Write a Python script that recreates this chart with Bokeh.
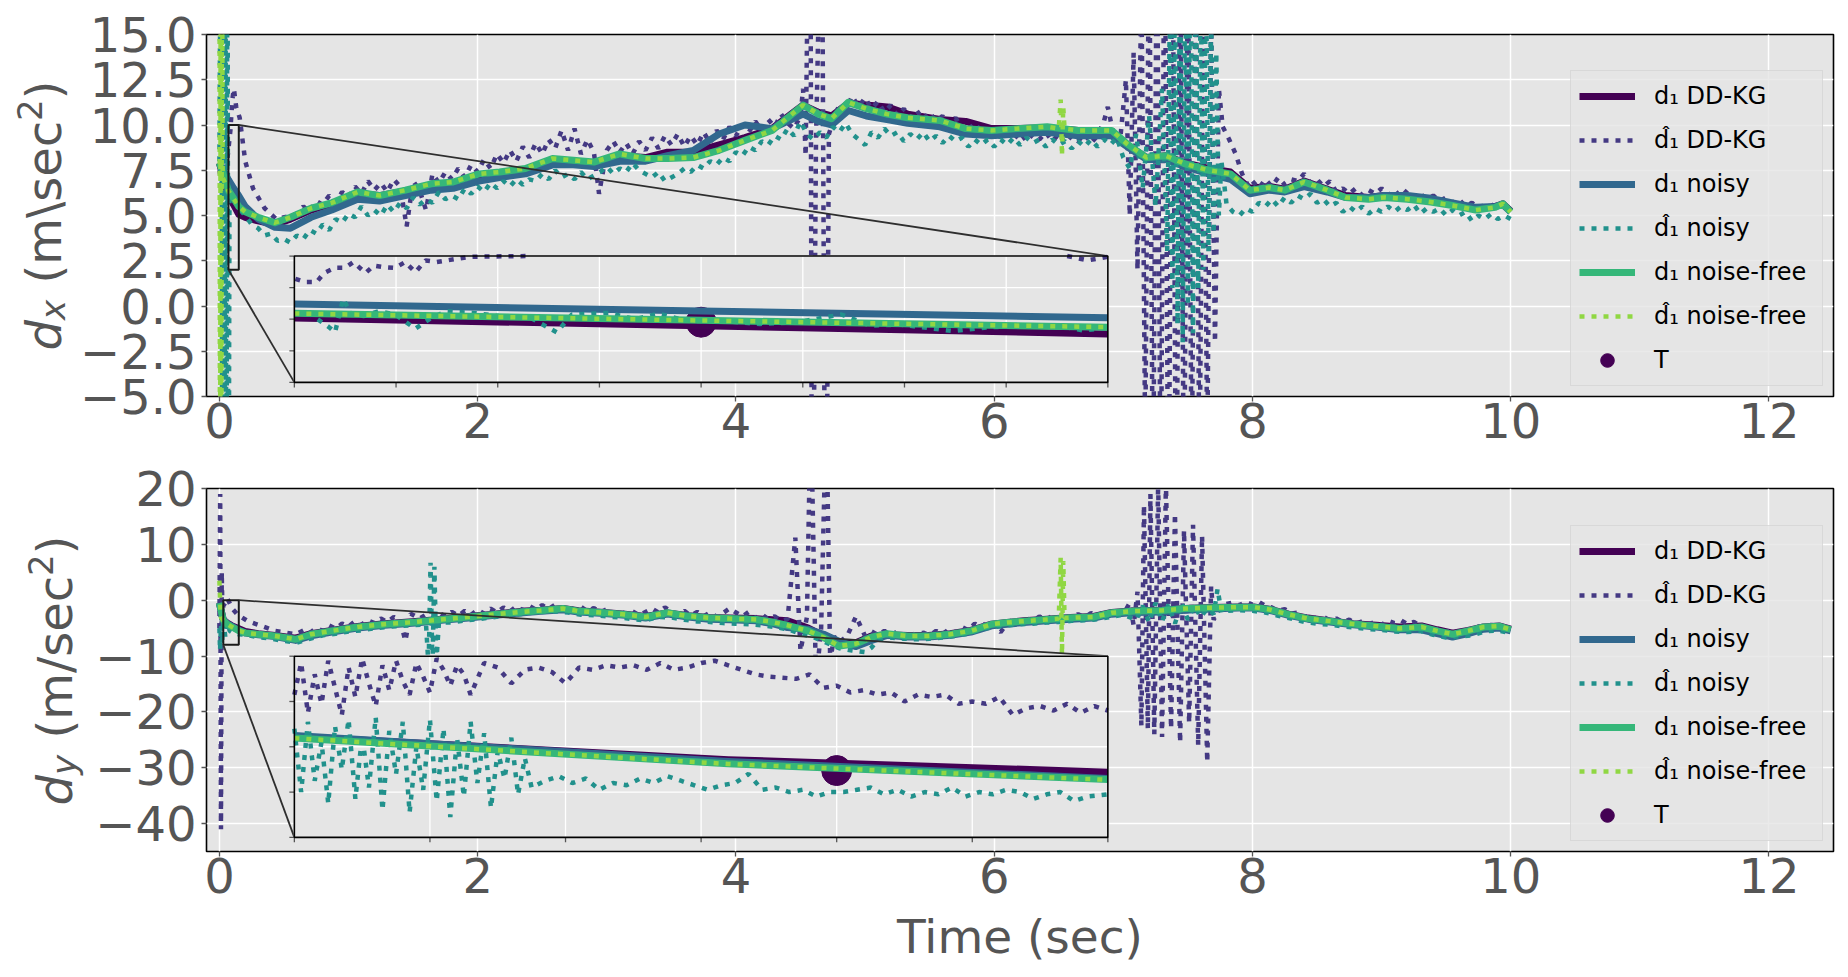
import math
from bokeh.plotting import figure
from bokeh.models import Range1d, FixedTicker, Legend, LegendItem, Label
from bokeh.layouts import column, row
from bokeh.embed import file_html
from bokeh.resources import INLINE

NAN = float("nan")

# ---------------- axis ticks / labels ----------------
x_ticks = [0, 2, 4, 6, 8, 10, 12]
x_tick_labels = ["0", "2", "4", "6", "8", "10", "12"]
yx_ticks = [-5, -2.5, 0, 2.5, 5, 7.5, 10, 12.5, 15]
yx_tick_labels = ["\u22125.0", "\u22122.5", "0.0", "2.5", "5.0", "7.5", "10.0", "12.5", "15.0"]
yy_ticks = [-40, -30, -20, -10, 0, 10, 20]
yy_tick_labels = ["\u221240", "\u221230", "\u221220", "\u221210", "0", "10", "20"]
legend_labels = ["d\u2081 DD-KG", "d\u0302\u2081 DD-KG", "d\u2081 noisy", "d\u0302\u2081 noisy",
                 "d\u2081 noise-free", "d\u0302\u2081 noise-free", "T"]
x_title = "Time (sec)"

# ---------------- top panel (d_x): (time, value) ----------------
dd_x = [(0.0, 7.9), (0.07, 6.08), (0.11, 5.6), (0.15, 5.07), (0.2, 4.9), (0.3, 4.7), (0.43, 4.5), (0.55, 4.8),
        (0.71, 5.3), (0.87, 5.65), (1.07, 6.2), (1.24, 6.1), (1.44, 6.35), (1.64, 6.7), (1.81, 6.8), (2.01, 7.2),
        (2.17, 7.35), (2.37, 7.55), (2.58, 8.05), (2.74, 8.0), (2.9, 7.9), (3.1, 8.3), (3.3, 8.2), (3.47, 8.5),
        (3.67, 8.5), (3.87, 8.9), (4.07, 9.3), (4.28, 9.8), (4.52, 11.1), (4.64, 10.7), (4.74, 10.5), (4.87, 11.2),
        (5.01, 11.1), (5.17, 11.0), (5.33, 10.6), (5.58, 10.3), (5.78, 10.2), (5.98, 9.8), (6.18, 9.8), (6.41, 9.85),
        (6.65, 9.7), (6.91, 9.6), (7.03, 8.9), (7.18, 8.2), (7.33, 8.3), (7.48, 7.9), (7.66, 7.6), (7.83, 7.4),
        (7.98, 6.5), (8.13, 6.6), (8.25, 6.45), (8.4, 6.9), (8.58, 6.45), (8.72, 6.1), (8.9, 6.0), (9.02, 6.1),
        (9.2, 5.95), (9.38, 5.8), (9.55, 5.6), (9.73, 5.35), (9.88, 5.5), (9.94, 5.65), (10.0, 5.25)]

ddh_x = [(0.0, 7.5), (0.03, 6.2), (0.06, 8.0), (0.085, 9.7), (0.1, 11.4), (0.112, 12.0), (0.13, 11.0), (0.157, 10.4),
         (0.2, 8.0), (0.26, 6.5), (0.35, 5.4), (0.44, 4.8), (0.56, 5.0), (0.6, 5.1), (0.65, 5.5), (0.7, 5.2),
         (0.75, 5.8), (0.8, 5.6), (0.85, 6.1), (0.9, 5.7), (0.95, 6.3), (1.0, 6.0), (1.05, 6.6), (1.1, 6.2),
         (1.15, 6.9), (1.2, 6.4), (1.25, 6.8), (1.3, 6.3), (1.35, 7.0), (1.4, 6.6), (1.45, 4.4), (1.5, 6.9),
         (1.55, 6.4), (1.6, 5.3), (1.65, 7.3), (1.7, 6.8), (1.75, 7.4), (1.8, 7.0), (1.85, 7.6), (1.9, 7.1),
         (1.95, 7.8), (2.0, 7.4), (2.05, 8.1), (2.1, 7.6), (2.15, 8.4), (2.2, 7.9), (2.25, 8.6), (2.3, 8.0),
         (2.35, 8.8), (2.4, 8.2), (2.45, 9.0), (2.5, 8.4), (2.55, 9.2), (2.6, 8.7), (2.65, 9.7), (2.7, 8.6),
         (2.75, 9.8), (2.8, 8.4), (2.85, 9.2), (2.9, 8.5), (2.94, 6.2), (3.0, 8.6), (3.05, 9.1), (3.1, 8.5),
         (3.15, 9.0), (3.2, 8.4), (3.25, 9.1), (3.3, 8.6), (3.35, 9.3), (3.4, 8.7), (3.45, 9.4), (3.5, 8.9),
         (3.55, 9.5), (3.6, 8.8), (3.65, 9.4), (3.7, 8.9), (3.75, 9.6), (3.8, 9.0), (3.85, 9.7), (3.9, 9.2),
         (3.95, 9.9), (4.0, 9.4), (4.05, 10.0), (4.1, 9.6), (4.15, 10.2), (4.2, 9.7), (4.25, 10.3), (4.3, 9.9),
         (4.35, 10.6), (4.4, 10.1), (4.45, 9.8), (4.5, 10.5), (4.52, 12.0), (4.54, 8.3), (4.575, 30.0),
         (4.59, -20.0), (4.62, 9.0), (4.665, 25.0), (4.695, -20.0), (4.72, 9.5), (4.76, 10.4), (4.8, 11.1),
         (4.85, 10.8), (4.9, 11.6), (4.95, 11.0), (5.0, 11.5), (5.05, 10.9), (5.1, 11.3), (5.15, 10.7),
         (5.2, 11.1), (5.25, 10.5), (5.3, 10.9), (5.35, 10.4), (5.4, 10.8), (5.45, 10.3), (5.5, 10.7),
         (5.55, 10.2), (5.6, 10.5), (5.65, 10.0), (5.7, 10.4), (5.75, 9.8), (5.8, 10.1), (5.85, 9.6), (5.9, 10.0),
         (5.95, 9.5), (6.0, 9.8), (6.05, 9.3), (6.1, 9.7), (6.15, 9.2), (6.2, 9.6), (6.25, 9.1), (6.3, 9.5),
         (6.35, 9.2), (6.4, 9.6), (6.45, 9.1), (6.5, 9.5), (6.55, 9.0), (6.6, 9.4), (6.65, 9.1), (6.7, 9.5),
         (6.75, 9.0), (6.8, 9.4), (6.85, 10.2), (6.88, 11.0), (6.92, 9.6), (6.98, 9.5), (7.02, 12.5), (7.05, 5.0),
         (7.08, 14.0), (7.11, 2.0), (7.14, 18.0), (7.17, -8.0), (7.2, 22.0), (7.23, -12.0), (7.26, 22.0),
         (7.29, -12.0), (7.32, 24.0), (7.35, -15.0), (7.38, 24.0), (7.41, -15.0), (7.44, 22.0), (7.47, -12.0),
         (7.5, 20.0), (7.53, -10.0), (7.56, 20.0), (7.59, -10.0), (7.62, 18.0), (7.65, -8.0), (7.68, 16.0),
         (7.71, -2.0), (7.74, 12.0), (7.77, 9.9), (7.82, 9.2), (7.87, 8.4), (7.92, 7.3), (7.97, 6.6), (8.0, 6.9),
         (8.05, 6.5), (8.1, 7.0), (8.15, 6.6), (8.2, 7.1), (8.25, 6.7), (8.3, 7.0), (8.35, 6.9), (8.4, 7.3),
         (8.45, 6.8), (8.5, 7.0), (8.55, 6.6), (8.6, 6.9), (8.65, 6.3), (8.7, 6.5), (8.75, 6.2), (8.8, 6.5),
         (8.85, 6.1), (8.9, 6.4), (8.95, 6.2), (9.0, 6.5), (9.05, 6.1), (9.1, 6.4), (9.15, 6.0), (9.2, 6.4),
         (9.25, 6.0), (9.3, 6.2), (9.35, 5.9), (9.4, 6.1), (9.45, 5.8), (9.5, 6.0), (9.55, 5.7), (9.6, 5.9),
         (9.65, 5.5), (9.7, 5.7), (9.75, 5.4), (9.8, 5.6), (9.85, 5.5), (9.9, 5.8), (9.95, 5.3), (10.0, 5.4)]

noisy_x = [(0.0, 7.9), (0.07, 6.97), (0.11, 6.5), (0.15, 6.09), (0.2, 5.5), (0.3, 4.8), (0.43, 4.35), (0.55, 4.3),
           (0.71, 4.9), (0.87, 5.3), (1.07, 5.9), (1.24, 5.8), (1.44, 6.1), (1.64, 6.4), (1.81, 6.5), (2.01, 6.9),
           (2.17, 7.1), (2.37, 7.3), (2.58, 7.8), (2.74, 7.8), (2.9, 7.7), (3.1, 8.0), (3.3, 8.0), (3.47, 8.3),
           (3.67, 8.6), (3.87, 9.5), (4.07, 10.0), (4.28, 9.8), (4.52, 10.6), (4.64, 10.2), (4.74, 10.0),
           (4.87, 10.8), (5.01, 10.5), (5.17, 10.3), (5.33, 10.1), (5.58, 9.9), (5.78, 9.5), (5.98, 9.4),
           (6.18, 9.5), (6.41, 9.6), (6.65, 9.4), (6.91, 9.4), (7.03, 8.8), (7.18, 8.1), (7.33, 8.1), (7.48, 7.7),
           (7.66, 7.3), (7.83, 7.0), (7.98, 6.2), (8.13, 6.4), (8.25, 6.3), (8.4, 6.6), (8.58, 6.3), (8.72, 6.0),
           (8.9, 6.0), (9.02, 6.1), (9.2, 6.1), (9.38, 5.95), (9.55, 5.7), (9.73, 5.45), (9.88, 5.5), (9.94, 5.6),
           (10.0, 5.2)]

noisyh_x = [(0.0, 8.0), (0.015, 30.0), (0.022, -25.0), (0.03, 30.0), (0.038, -25.0), (0.046, 30.0),
            (0.054, -22.0), (0.062, 28.0), (0.07, -20.0), (0.078, 6.4), (0.1, 6.0), (0.15, 5.4), (0.2, 5.0),
            (0.25, 4.5), (0.3, 4.3), (0.35, 3.9), (0.4, 4.0), (0.45, 3.6), (0.5, 3.7), (0.55, 3.5), (0.6, 3.9),
            (0.65, 3.7), (0.7, 4.2), (0.75, 4.0), (0.8, 4.5), (0.85, 4.2), (0.9, 4.8), (0.95, 4.6), (1.0, 5.1),
            (1.05, 4.9), (1.1, 5.5), (1.15, 5.0), (1.2, 5.3), (1.25, 5.0), (1.3, 5.6), (1.35, 5.2), (1.4, 5.7),
            (1.45, 5.4), (1.5, 6.0), (1.55, 5.6), (1.6, 5.9), (1.65, 5.7), (1.7, 6.3), (1.75, 5.9), (1.8, 6.1),
            (1.85, 5.9), (1.9, 6.5), (1.95, 6.2), (2.0, 6.6), (2.05, 6.3), (2.1, 6.8), (2.15, 6.5), (2.2, 6.9),
            (2.25, 6.6), (2.3, 7.0), (2.35, 6.7), (2.4, 7.0), (2.45, 6.9), (2.5, 7.3), (2.55, 7.0), (2.6, 7.5),
            (2.65, 7.1), (2.7, 7.3), (2.75, 7.0), (2.8, 7.4), (2.85, 7.0), (2.9, 7.2), (2.95, 7.4), (3.0, 7.7),
            (3.05, 7.3), (3.1, 7.6), (3.15, 7.4), (3.2, 7.9), (3.25, 7.5), (3.3, 7.3), (3.35, 7.1), (3.4, 7.4),
            (3.45, 6.9), (3.5, 7.1), (3.55, 7.3), (3.6, 7.6), (3.65, 7.4), (3.7, 7.8), (3.75, 7.6), (3.8, 8.0),
            (3.85, 7.8), (3.9, 8.2), (3.95, 8.0), (4.0, 8.5), (4.05, 8.3), (4.1, 8.8), (4.15, 8.6), (4.2, 9.1),
            (4.25, 8.9), (4.3, 9.4), (4.35, 9.2), (4.4, 9.8), (4.45, 9.4), (4.5, 10.2), (4.55, 9.5), (4.6, 9.2),
            (4.65, 9.6), (4.7, 9.3), (4.75, 9.9), (4.8, 9.6), (4.85, 10.1), (4.9, 9.5), (4.95, 9.2), (5.0, 8.9),
            (5.05, 9.6), (5.1, 9.3), (5.15, 9.8), (5.2, 9.4), (5.25, 9.6), (5.3, 9.1), (5.35, 9.5), (5.4, 9.2),
            (5.45, 9.6), (5.5, 9.1), (5.55, 9.4), (5.6, 9.0), (5.65, 9.4), (5.7, 9.1), (5.75, 9.3), (5.8, 8.8),
            (5.85, 9.2), (5.9, 8.9), (5.95, 9.2), (6.0, 8.8), (6.05, 9.2), (6.1, 8.9), (6.15, 9.3), (6.2, 8.9),
            (6.25, 9.3), (6.3, 9.0), (6.35, 9.2), (6.4, 8.8), (6.45, 9.2), (6.5, 8.9), (6.55, 9.1), (6.6, 8.7),
            (6.65, 9.1), (6.7, 8.8), (6.75, 9.2), (6.8, 8.8), (6.85, 9.2), (6.9, 8.9), (6.95, 9.3), (7.0, 8.2),
            (7.05, 7.6), (7.1, 9.5), (7.15, 6.5), (7.2, 10.5), (7.25, 5.5), (7.3, 12.0), (7.34, 3.0), (7.36, 16.0),
            (7.38, 1.0), (7.4, 18.0), (7.42, -1.0), (7.44, 20.0), (7.46, -2.0), (7.48, 20.0), (7.5, 0.0),
            (7.52, 22.0), (7.54, -1.5), (7.56, 20.0), (7.58, 1.0), (7.6, 18.0), (7.62, 2.0), (7.64, 19.0),
            (7.66, 3.0), (7.68, 16.0), (7.7, 4.0), (7.72, 14.0), (7.74, 5.0), (7.76, 8.0), (7.8, 5.6), (7.85, 5.2),
            (7.9, 5.0), (7.95, 5.4), (8.0, 5.2), (8.05, 5.7), (8.1, 5.5), (8.15, 5.9), (8.2, 5.5), (8.25, 6.0),
            (8.3, 5.7), (8.35, 6.1), (8.4, 5.9), (8.45, 6.2), (8.5, 5.7), (8.55, 5.9), (8.6, 5.5), (8.65, 5.7),
            (8.7, 5.2), (8.75, 5.5), (8.8, 5.2), (8.85, 5.5), (8.9, 5.1), (8.95, 5.4), (9.0, 5.2), (9.05, 5.5),
            (9.1, 5.2), (9.15, 5.5), (9.2, 5.3), (9.25, 5.6), (9.3, 5.1), (9.35, 5.4), (9.4, 5.2), (9.45, 5.4),
            (9.5, 5.0), (9.55, 5.3), (9.6, 5.0), (9.65, 5.2), (9.7, 4.7), (9.75, 5.0), (9.8, 4.8), (9.85, 5.1),
            (9.9, 4.8), (9.95, 5.0), (10.0, 4.8)]

nf_x = [(0.0, 7.9), (0.07, 6.38), (0.11, 5.95), (0.15, 5.49), (0.2, 5.2), (0.3, 4.9), (0.43, 4.6), (0.55, 4.9),
        (0.71, 5.4), (0.87, 5.7), (1.07, 6.3), (1.24, 6.1), (1.44, 6.4), (1.64, 6.75), (1.81, 6.85), (2.01, 7.3),
        (2.17, 7.4), (2.37, 7.6), (2.58, 8.15), (2.74, 8.05), (2.9, 7.95), (3.1, 8.4), (3.3, 8.15), (3.47, 8.15),
        (3.67, 8.2), (3.87, 8.6), (4.07, 9.15), (4.28, 9.7), (4.52, 11.1), (4.64, 10.6), (4.74, 10.35),
        (4.87, 11.25), (5.01, 10.9), (5.17, 10.6), (5.33, 10.4), (5.58, 10.25), (5.78, 9.8), (5.98, 9.7),
        (6.18, 9.8), (6.41, 9.9), (6.65, 9.7), (6.91, 9.7), (7.03, 8.95), (7.18, 8.2), (7.33, 8.3), (7.48, 7.85),
        (7.66, 7.5), (7.83, 7.3), (7.98, 6.4), (8.13, 6.55), (8.25, 6.4), (8.4, 6.85), (8.58, 6.4), (8.72, 6.0),
        (8.9, 5.9), (9.02, 6.0), (9.2, 5.9), (9.38, 5.75), (9.55, 5.55), (9.73, 5.3), (9.88, 5.45), (9.94, 5.65),
        (10.0, 5.2)]

nfh_x = [(0.0, 30.0), (0.005, -20.0), (0.01, 25.0), (0.015, -15.0), (0.02, 25.0), (0.025, 7.1), (0.07, 6.36),
         (0.11, 5.93), (0.15, 5.5), (0.2, 5.2), (0.3, 4.9), (0.43, 4.6), (0.55, 4.9), (0.71, 5.4), (0.87, 5.7),
         (1.07, 6.3), (1.24, 6.1), (1.44, 6.4), (1.64, 6.75), (1.81, 6.85), (2.01, 7.3), (2.17, 7.4), (2.37, 7.6),
         (2.58, 8.15), (2.74, 8.05), (2.9, 7.95), (3.1, 8.4), (3.3, 8.15), (3.47, 8.15), (3.67, 8.2), (3.87, 8.6),
         (4.07, 9.15), (4.28, 9.7), (4.52, 11.1), (4.64, 10.6), (4.74, 10.35), (4.87, 11.25), (5.01, 10.9),
         (5.17, 10.6), (5.33, 10.4), (5.58, 10.25), (5.78, 9.8), (5.98, 9.7), (6.18, 9.8), (6.41, 9.9),
         (6.5, 9.8), (6.515, 11.4), (6.525, 8.3), (6.535, 11.0), (6.545, 9.8), (6.65, 9.7), (6.91, 9.7),
         (7.03, 8.95), (7.18, 8.2), (7.33, 8.3), (7.48, 7.85), (7.66, 7.5), (7.83, 7.3), (7.98, 6.4),
         (8.13, 6.55), (8.25, 6.4), (8.4, 6.85), (8.58, 6.4), (8.72, 6.0), (8.9, 5.9), (9.02, 6.0), (9.2, 5.9),
         (9.38, 5.75), (9.55, 5.55), (9.73, 5.3), (9.88, 5.45), (9.94, 5.65), (10.0, 5.2)]

T_t = [0.11]
T_dx = [5.81]
T_dy = [-5.05]

# ---------------- bottom panel (d_y): (time, value) ----------------
dd_y = [(0.0, -0.5), (0.03, -3.55), (0.06, -4.1), (0.094, -4.55), (0.15, -5.12), (0.2, -5.6), (0.3, -6.0),
        (0.43, -6.3), (0.59, -6.8), (0.71, -6.0), (0.87, -5.4), (1.07, -4.7), (1.28, -4.2), (1.52, -3.8),
        (1.72, -3.4), (1.93, -2.9), (2.13, -2.5), (2.33, -2.0), (2.49, -1.8), (2.66, -1.5), (2.78, -1.9),
        (2.98, -2.2), (3.14, -2.5), (3.3, -2.9), (3.47, -2.3), (3.63, -2.8), (3.79, -3.1), (3.95, -3.2),
        (4.16, -3.3), (4.28, -3.5), (4.4, -3.7), (4.56, -5.0), (4.68, -6.4), (4.8, -7.8), (4.93, -7.6),
        (5.05, -6.4), (5.17, -6.2), (5.33, -6.3), (5.49, -6.3), (5.66, -6.0), (5.82, -5.4), (5.98, -4.3),
        (6.1, -4.0), (6.23, -3.7), (6.41, -3.4), (6.59, -3.1), (6.77, -2.9), (6.91, -2.2), (7.09, -1.9),
        (7.3, -1.8), (7.48, -1.5), (7.68, -1.3), (7.89, -1.2), (8.01, -1.2), (8.13, -1.6), (8.28, -2.5),
        (8.43, -3.2), (8.6, -3.7), (8.78, -4.2), (8.96, -4.5), (9.14, -4.8), (9.31, -4.6), (9.43, -5.3),
        (9.55, -5.9), (9.67, -5.4), (9.79, -4.8), (9.91, -4.6), (10.0, -5.2)]

ddh_y = [(0.0, -5.0), (0.006, 19.0), (0.012, -41.0), (0.018, 5.0), (0.024, -3.0), (0.03, -1.0), (0.045, -0.5),
         (0.06, 0.4), (0.1, -1.5), (0.14, -2.6), (0.22, -3.75), (0.3, -4.4), (0.43, -5.5), (0.59, -6.1),
         (0.65, -5.4), (0.7, -5.9), (0.75, -5.0), (0.8, -5.5), (0.85, -4.5), (0.9, -5.1), (0.95, -4.2),
         (1.0, -4.7), (1.05, -3.8), (1.1, -4.4), (1.15, -3.6), (1.2, -4.1), (1.25, -3.3), (1.3, -3.9),
         (1.35, -3.0), (1.4, -3.6), (1.44, -7.3), (1.48, -2.4), (1.55, -3.3), (1.6, -2.6), (1.65, -3.2),
         (1.7, -2.3), (1.75, -2.9), (1.8, -2.1), (1.85, -2.8), (1.9, -1.9), (1.95, -2.6), (2.0, -1.7),
         (2.05, -2.4), (2.1, -1.5), (2.15, -2.2), (2.2, -1.3), (2.25, -2.0), (2.3, -1.1), (2.35, -1.8),
         (2.4, -1.0), (2.45, -1.7), (2.5, -0.9), (2.55, -1.6), (2.6, -0.8), (2.65, -1.5), (2.7, -1.0),
         (2.75, -1.8), (2.8, -1.2), (2.85, -2.0), (2.9, -1.4), (2.95, -2.2), (3.0, -1.6), (3.05, -2.4),
         (3.1, -1.8), (3.15, -2.6), (3.2, -2.0), (3.25, -2.7), (3.3, -2.1), (3.35, -1.5), (3.4, -2.2),
         (3.45, -1.3), (3.5, -2.0), (3.55, -2.6), (3.6, -1.9), (3.65, -2.8), (3.7, -2.1), (3.75, -2.9),
         (3.8, -2.2), (3.85, -3.0), (3.9, -2.3), (3.95, -1.5), (4.0, -2.2), (4.05, -2.9), (4.1, -2.1),
         (4.15, -3.2), (4.2, -2.5), (4.25, -3.4), (4.3, -2.9), (4.35, -3.7), (4.4, -3.4), (4.46, 11.2),
         (4.5, -9.1), (4.55, -3.0), (4.58, 35.0), (4.62, -15.0), (4.66, -5.0), (4.7, 35.0), (4.73, -11.0),
         (4.76, -6.5), (4.8, -7.5), (4.86, -6.5), (4.93, -2.9), (5.0, -6.4), (5.05, -5.6), (5.1, -6.2),
         (5.15, -5.5), (5.2, -6.3), (5.25, -5.6), (5.3, -6.4), (5.35, -5.7), (5.4, -6.5), (5.45, -5.8),
         (5.5, -6.3), (5.55, -5.5), (5.6, -6.1), (5.65, -5.2), (5.7, -5.8), (5.75, -4.8), (5.8, -5.4),
         (5.85, -4.2), (5.9, -4.9), (5.95, -3.8), (6.0, -4.6), (6.05, -5.7), (6.1, -4.2), (6.15, -3.4),
         (6.2, -4.1), (6.25, -3.2), (6.3, -3.9), (6.35, -2.9), (6.4, -3.6), (6.45, -2.8), (6.5, -3.4),
         (6.55, -2.6), (6.6, -3.3), (6.65, -2.5), (6.7, -3.1), (6.75, -2.3), (6.8, -2.9), (6.85, -2.0),
         (6.9, -2.6), (6.95, -1.8), (7.0, -2.5), (7.05, -0.5), (7.08, -4.5), (7.11, 1.5), (7.14, -22.5),
         (7.16, 17.0), (7.19, -23.0), (7.21, 19.0), (7.24, -24.0), (7.27, 21.0), (7.3, -24.5), (7.33, 21.0),
         (7.37, -23.0), (7.4, 15.5), (7.44, -25.5), (7.47, 12.5), (7.51, -22.0), (7.54, 13.5), (7.58, -26.0),
         (7.61, 11.5), (7.65, -29.0), (7.68, 2.5), (7.7, -3.5), (7.73, -2.0), (7.78, -0.8), (7.85, -0.4),
         (7.9, -0.9), (7.95, -0.3), (8.0, -0.8), (8.05, -0.3), (8.1, -1.0), (8.15, -1.3), (8.2, -1.9),
         (8.25, -1.6), (8.3, -2.4), (8.35, -2.2), (8.4, -3.0), (8.45, -2.7), (8.5, -3.4), (8.55, -3.0),
         (8.6, -3.6), (8.65, -3.3), (8.7, -3.9), (8.75, -3.5), (8.8, -4.2), (8.85, -3.8), (8.9, -4.3),
         (8.95, -3.9), (9.0, -4.4), (9.05, -3.7), (9.1, -4.1), (9.15, -3.6), (9.2, -4.3), (9.25, -3.9),
         (9.3, -4.6), (9.35, -4.8), (9.4, -5.4), (9.45, -5.1), (9.5, -5.8), (9.55, -5.3), (9.6, -5.9),
         (9.65, -5.2), (9.7, -5.6), (9.75, -4.7), (9.8, -5.0), (9.85, -4.4), (9.9, -4.8), (9.95, -4.5),
         (10.0, -5.1)]

noisy_y = [(0.0, -0.5), (0.03, -3.5), (0.06, -4.2), (0.094, -4.62), (0.15, -5.4), (0.2, -5.9), (0.3, -6.2),
           (0.43, -6.5), (0.59, -7.2), (0.71, -6.4), (0.87, -5.7), (1.07, -5.0), (1.28, -4.5), (1.52, -4.1),
           (1.72, -3.6), (1.93, -3.2), (2.13, -2.7), (2.33, -2.3), (2.49, -2.0), (2.66, -1.7), (2.78, -2.1),
           (2.98, -2.4), (3.14, -2.7), (3.3, -3.2), (3.47, -2.5), (3.63, -3.0), (3.79, -3.4), (3.95, -3.5),
           (4.16, -3.7), (4.28, -4.2), (4.4, -4.9), (4.56, -5.2), (4.68, -6.1), (4.8, -7.4), (4.93, -8.3),
           (5.05, -7.2), (5.17, -6.3), (5.33, -6.6), (5.49, -6.6), (5.66, -6.3), (5.82, -5.7), (5.98, -4.6),
           (6.1, -4.3), (6.23, -4.0), (6.41, -3.7), (6.59, -3.4), (6.77, -3.2), (6.91, -2.5), (7.09, -2.2),
           (7.3, -2.1), (7.48, -1.8), (7.68, -1.6), (7.89, -1.4), (8.01, -1.4), (8.13, -1.8), (8.28, -2.7),
           (8.43, -3.4), (8.6, -3.9), (8.78, -4.4), (8.96, -4.8), (9.14, -5.3), (9.31, -5.3), (9.43, -6.0),
           (9.55, -6.6), (9.67, -6.0), (9.79, -5.2), (9.91, -5.0), (10.0, -5.5)]

noisyh_y = [(0.0, -5.0), (0.005, -9.0), (0.012, -4.5), (0.02, -8.0), (0.03, -3.2), (0.045, -6.5), (0.06, -4.0),
            (0.08, -5.5), (0.1, -5.8), (0.15, -6.1), (0.2, -6.2), (0.3, -6.6), (0.4, -6.9), (0.5, -7.3),
            (0.6, -7.6), (0.7, -6.9), (0.8, -6.3), (0.9, -6.0), (1.0, -5.6), (1.1, -5.4), (1.2, -5.0), (1.3, -4.8),
            (1.4, -4.6), (1.5, -4.5), (1.6, -4.3), (1.62, -12.0), (1.635, 6.7), (1.65, -12.0), (1.665, 6.0),
            (1.68, -11.0), (1.7, -4.0), (1.8, -4.0), (1.9, -3.6), (2.0, -3.4), (2.1, -3.1), (2.2, -2.8),
            (2.3, -2.6), (2.4, -2.3), (2.5, -2.1), (2.6, -2.0), (2.7, -2.2), (2.8, -2.6), (2.9, -2.7), (3.0, -2.9),
            (3.1, -3.1), (3.2, -3.4), (3.3, -3.6), (3.4, -3.0), (3.5, -3.1), (3.6, -3.5), (3.7, -3.8), (3.8, -3.9),
            (3.9, -4.1), (4.0, -4.2), (4.1, -4.3), (4.2, -4.5), (4.3, -4.8), (4.4, -5.2), (4.5, -6.0), (4.6, -6.6),
            (4.7, -7.6), (4.8, -8.6), (4.9, -9.0), (5.0, -9.3), (5.05, -8.5), (5.1, -7.0), (5.2, -6.7),
            (5.3, -6.9), (5.4, -7.0), (5.5, -6.9), (5.6, -6.7), (5.7, -6.4), (5.8, -6.0), (5.9, -5.2), (6.0, -4.8),
            (6.1, -4.5), (6.2, -4.3), (6.3, -4.2), (6.4, -4.0), (6.5, -3.9), (6.6, -3.7), (6.7, -3.6), (6.8, -3.4),
            (6.9, -3.0), (7.0, -2.6), (7.1, -3.5), (7.15, -1.0), (7.2, -4.0), (7.25, -0.5), (7.3, -3.8),
            (7.35, -0.8), (7.4, -4.2), (7.45, -0.5), (7.5, -3.5), (7.55, -1.0), (7.6, -3.0), (7.65, -1.5),
            (7.7, -2.5), (7.73, 2.0), (7.76, -2.2), (7.8, -1.9), (7.9, -1.8), (8.0, -1.9), (8.1, -2.2), (8.2, -2.8),
            (8.3, -3.3), (8.4, -3.9), (8.5, -4.2), (8.6, -4.4), (8.7, -4.7), (8.8, -4.9), (8.9, -5.2), (9.0, -5.3),
            (9.1, -5.6), (9.2, -5.7), (9.3, -5.5), (9.4, -6.2), (9.5, -6.7), (9.6, -6.5), (9.7, -6.3), (9.8, -5.6),
            (9.9, -5.4), (10.0, -5.9)]

nf_y = [(0.0, -0.5), (0.03, -3.61), (0.06, -4.3), (0.094, -4.75), (0.15, -5.45), (0.2, -5.85), (0.3, -6.1),
        (0.43, -6.4), (0.59, -7.0), (0.71, -6.1), (0.87, -5.5), (1.07, -4.8), (1.28, -4.3), (1.52, -3.9),
        (1.72, -3.45), (1.93, -3.0), (2.13, -2.55), (2.33, -2.1), (2.49, -1.85), (2.66, -1.5), (2.78, -1.95),
        (2.98, -2.25), (3.14, -2.55), (3.3, -3.0), (3.47, -2.25), (3.63, -2.85), (3.79, -3.15), (3.95, -3.3),
        (4.16, -3.45), (4.28, -3.9), (4.4, -4.5), (4.56, -5.5), (4.68, -6.7), (4.8, -8.2), (4.93, -7.8),
        (5.05, -6.6), (5.17, -6.0), (5.33, -6.4), (5.49, -6.4), (5.66, -6.1), (5.82, -5.5), (5.98, -4.3),
        (6.1, -4.0), (6.23, -3.75), (6.41, -3.45), (6.59, -3.15), (6.77, -3.0), (6.91, -2.25), (7.09, -1.95),
        (7.3, -1.85), (7.48, -1.5), (7.68, -1.35), (7.89, -1.25), (8.01, -1.25), (8.13, -1.65), (8.28, -2.55),
        (8.43, -3.3), (8.6, -3.75), (8.78, -4.25), (8.96, -4.65), (9.14, -5.05), (9.31, -4.8), (9.43, -5.5),
        (9.55, -6.1), (9.67, -5.5), (9.79, -4.8), (9.91, -4.65), (10.0, -5.25)]

nfh_y = [(0.0, 3.5), (0.01, -3.0), (0.03, -3.62), (0.06, -4.3), (0.094, -4.76), (0.15, -5.46), (0.2, -5.85),
         (0.3, -6.1), (0.43, -6.4), (0.59, -7.0), (0.71, -6.1), (0.87, -5.5), (1.07, -4.8), (1.28, -4.3),
         (1.52, -3.9), (1.72, -3.45), (1.93, -3.0), (2.13, -2.55), (2.33, -2.1), (2.49, -1.85), (2.66, -1.5),
         (2.78, -1.95), (2.98, -2.25), (3.14, -2.55), (3.3, -3.0), (3.47, -2.25), (3.63, -2.85), (3.79, -3.15),
         (3.95, -3.3), (4.16, -3.45), (4.28, -3.9), (4.4, -4.5), (4.56, -5.5), (4.68, -6.7), (4.8, -8.2),
         (4.93, -7.8), (5.05, -6.6), (5.17, -6.0), (5.33, -6.4), (5.49, -6.4), (5.66, -6.1), (5.82, -5.5),
         (5.98, -4.3), (6.1, -4.0), (6.23, -3.75), (6.41, -3.45), (6.5, -3.3), (6.515, 7.6), (6.525, -9.8),
         (6.535, 7.0), (6.545, -3.2), (6.59, -3.15), (6.77, -3.0), (6.91, -2.25), (7.09, -1.95), (7.3, -1.85),
         (7.48, -1.5), (7.68, -1.35), (7.89, -1.25), (8.01, -1.25), (8.13, -1.65), (8.28, -2.55), (8.43, -3.3),
         (8.6, -3.75), (8.78, -4.25), (8.96, -4.65), (9.14, -5.05), (9.31, -4.8), (9.43, -5.5), (9.55, -6.1),
         (9.67, -5.5), (9.79, -4.8), (9.91, -4.65), (10.0, -5.25)]

# ---------------- zoomed insets ----------------
ins_top_xlim = (0.07, 0.15)
ins_top_ylim = (2.0, 10.0)
ins_top_xticks = [0.07, 0.08, 0.09, 0.10, 0.11, 0.12, 0.13, 0.14, 0.15]
ins_top_yticks = [2, 4, 6, 8, 10]
ins_top_dd = [(0.07, 6.08), (0.11, 5.58), (0.15, 5.07)]
ins_top_ddh = [(0.0701, 8.56), (0.0711, 8.35), (0.0722, 8.35), (0.0729, 8.92), (0.074, 9.26), (0.075, 9.26),
               (0.0758, 9.62), (0.077, 8.92), (0.0778, 9.4), (0.0788, 9.3), (0.0799, 9.25), (0.0809, 9.62),
               (0.0819, 8.98), (0.0829, 9.72), (0.084, 9.62), (0.085, 9.72), (0.086, 9.83), (0.0871, 9.94),
               (0.0885, 9.97), (0.0905, 9.98), (0.0932, 10.0), (NAN, NAN), (0.146, 10.0), (0.148, 9.73),
               (0.15, 9.95)]
ins_top_noisy = [(0.07, 6.97), (0.11, 6.52), (0.15, 6.09)]
ins_top_noisyh = [(0.0701, 6.4), (0.0716, 6.3), (0.0734, 5.5), (0.074, 5.17), (0.0748, 7.3), (0.0755, 6.4),
                  (0.0768, 6.2), (0.0783, 6.5), (0.0799, 6.3), (0.0819, 5.4), (0.0835, 6.1), (0.085, 6.5),
                  (0.0876, 6.4), (0.0901, 6.2), (0.0932, 6.1), (0.0958, 5.17), (0.0973, 6.3), (0.1009, 6.4),
                  (0.1035, 6.0), (0.1058, 6.35), (0.1086, 5.9), (0.1128, 5.85), (0.1158, 5.7), (0.1194, 5.8),
                  (0.1238, 6.3), (0.1266, 5.6), (0.1297, 5.65), (0.1348, 5.25), (0.1384, 5.5), (0.145, 5.6),
                  (0.1475, 5.3), (0.15, 5.45)]
ins_top_nf = [(0.07, 6.38), (0.11, 5.93), (0.15, 5.49)]
ins_top_nfh = [(0.07, 6.36), (0.11, 5.92), (0.15, 5.5)]

ins_bot_xlim = (0.03, 0.15)
ins_bot_ylim = (-8.0, 0.0)
ins_bot_xticks = [0.03, 0.05, 0.07, 0.09, 0.11, 0.13, 0.15]
ins_bot_yticks = [-8, -6, -4, -2, 0]
ins_bot_dd = [(0.03, -3.55), (0.094, -4.57), (0.15, -5.12)]
ins_bot_ddh = [(0.030, -1.7), (0.031, -0.3), (0.032, -2.5), (0.033, -0.8), (0.034, -2.1), (0.035, -0.2),
               (0.036, -1.4), (0.037, -2.6), (0.038, -0.5), (0.039, -1.8), (0.040, -0.1), (0.041, -1.2),
               (0.042, -2.2), (0.043, -0.4), (0.044, -1.5), (0.045, -0.2), (0.046, -1.1), (0.047, -1.7),
               (0.048, -0.3), (0.049, -0.9), (0.050, -1.6), (0.051, -0.1), (0.052, -0.6), (0.053, -1.3),
               (0.054, -0.4), (0.055, -0.8), (0.056, -1.7), (0.058, -0.3), (0.060, -0.5), (0.062, -1.2),
               (0.064, -0.6), (0.066, -0.5), (0.068, -0.7), (0.070, -1.2), (0.072, -0.5), (0.074, -0.6),
               (0.076, -0.4), (0.078, -0.5), (0.080, -0.4), (0.082, -0.6), (0.084, -0.3), (0.086, -0.6),
               (0.088, -0.5), (0.090, -0.3), (0.092, -0.2), (0.094, -0.4), (0.096, -0.6), (0.098, -0.8),
               (0.100, -0.9), (0.102, -0.95), (0.104, -1.0), (0.106, -0.8), (0.108, -1.4), (0.110, -1.3),
               (0.112, -1.6), (0.114, -1.5), (0.116, -1.7), (0.118, -1.6), (0.120, -2.0), (0.122, -1.7),
               (0.124, -1.8), (0.126, -1.7), (0.128, -2.1), (0.130, -2.0), (0.132, -2.1), (0.134, -1.8),
               (0.136, -2.6), (0.138, -2.3), (0.140, -2.2), (0.142, -2.4), (0.144, -2.1), (0.146, -2.5),
               (0.148, -2.2), (0.150, -2.4)]
ins_bot_noisy = [(0.03, -3.5), (0.094, -4.65), (0.15, -5.4)]
ins_bot_noisyh = [(0.030, -3.2), (0.031, -6.0), (0.032, -2.9), (0.033, -5.5), (0.034, -3.8), (0.035, -6.5),
                  (0.036, -3.1), (0.037, -5.0), (0.038, -2.8), (0.039, -6.3), (0.040, -3.5), (0.041, -5.8),
                  (0.042, -2.7), (0.043, -6.8), (0.044, -3.3), (0.045, -5.2), (0.046, -2.9), (0.047, -6.9),
                  (0.048, -4.0), (0.049, -5.9), (0.050, -2.8), (0.051, -6.4), (0.052, -3.2), (0.053, -7.1),
                  (0.054, -3.6), (0.055, -6.2), (0.056, -2.9), (0.057, -5.6), (0.058, -3.4), (0.059, -6.7),
                  (0.060, -4.2), (0.061, -5.4), (0.062, -3.6), (0.063, -6.1), (0.064, -4.5), (0.065, -5.8),
                  (0.067, -5.5), (0.069, -5.3), (0.071, -5.6), (0.073, -5.4), (0.075, -5.9), (0.077, -5.6),
                  (0.079, -5.7), (0.081, -5.4), (0.083, -5.6), (0.085, -5.3), (0.087, -5.5), (0.089, -5.7),
                  (0.091, -5.9), (0.093, -5.7), (0.095, -5.6), (0.097, -5.2), (0.099, -5.9), (0.101, -5.8),
                  (0.103, -6.0), (0.105, -5.9), (0.107, -6.2), (0.109, -6.0), (0.111, -6.0), (0.113, -5.9),
                  (0.115, -5.8), (0.117, -6.1), (0.119, -5.9), (0.121, -6.2), (0.123, -6.0), (0.125, -6.1),
                  (0.127, -5.8), (0.129, -6.2), (0.131, -6.0), (0.133, -6.1), (0.135, -5.9), (0.137, -6.0),
                  (0.139, -6.3), (0.141, -6.1), (0.143, -6.0), (0.145, -6.4), (0.147, -6.2), (0.150, -6.1)]
ins_bot_nf = [(0.03, -3.61), (0.094, -4.75), (0.15, -5.45)]
ins_bot_nfh = [(0.03, -3.62), (0.094, -4.76), (0.15, -5.46)]

# ---------------- styling / layout ----------------
XLIM = (-0.1, 12.5)
YLIM_X = (-5.0, 15.0)
YLIM_Y = (-45.0, 20.0)
COLORS = ["#440154", "#443983", "#31688e", "#21918c", "#35b779", "#90d743"]
DOTTED = [False, True, False, True, False, True]
T_COLOR = "#440154"
SOLID_W = 7
DOT_W = 4.5
DOT_DASH = "5 7"
FONT = "DejaVu Sans"
GREY = "#555555"
TICK_FONT = "48px"
MID = 0.346               # distance baseline -> middle of the text box, in em

FRAME_W = 1627
FRAME_LEFT = 206          # page x of both plotting frames
BORDER_R = 14
F1_TOP, F1_H = 34, 362    # page y of the top frame and its height
F2_TOP, F2_H = 488, 363   # page y of the bottom frame and its height
TOP_H = 459               # height of the first row
BOT_B = 64                # bottom border of the second row
LAB1_W = 72
LAB2_W = 86
STRIP_H = 72
STRIP_OVERLAP = 12
TITLE_BASELINE = 952

INSET_FX = (0.054, 0.554)
INSET_FY_TOP = (0.039, 0.388)
INSET_FY_BOT = (0.039, 0.538)


def pts(pairs):
    return [a for a, b in pairs], [b for a, b in pairs]


def draw_lines(p, series, **kw):
    rs = []
    for pairs, color, dotted in zip(series, COLORS, DOTTED):
        xs, ys = pts(pairs)
        if dotted:
            r = p.line(xs, ys, line_color=color, line_width=DOT_W, line_dash=DOT_DASH, **kw)
        else:
            r = p.line(xs, ys, line_color=color, line_width=SOLID_W, line_join="round", **kw)
        rs.append(r)
    return rs


def add_inset(p, name, fx, fy, ulim, wlim, uticks, wticks, series, T_pt, frame_h):
    xr, yr = p.x_range, p.y_range
    su = (ulim[1] - ulim[0]) / (fx[1] - fx[0])
    sw = (wlim[1] - wlim[0]) / (fy[1] - fy[0])
    p.extra_x_ranges = {**p.extra_x_ranges, name: Range1d(ulim[0] - fx[0] * su, ulim[0] + (1 - fx[0]) * su)}
    p.extra_y_ranges = {**p.extra_y_ranges, name: Range1d(wlim[0] - fy[0] * sw, wlim[0] + (1 - fy[0]) * sw)}
    ix0 = xr.start + fx[0] * (xr.end - xr.start)
    ix1 = xr.start + fx[1] * (xr.end - xr.start)
    iy0 = yr.start + fy[0] * (yr.end - yr.start)
    iy1 = yr.start + fy[1] * (yr.end - yr.start)
    p.quad(left=[ulim[0]], right=[ulim[1]], bottom=[wlim[0]], top=[wlim[1]],
           fill_color=None, line_color="#1a1a1a", line_width=2)
    p.segment(x0=[ulim[1], ulim[0]], y0=[wlim[1], wlim[0]], x1=[ix1, ix0], y1=[iy1, iy0],
              line_color="#2e2e2e", line_width=1.8)
    kw = dict(x_range_name=name, y_range_name=name)
    p.quad(left=[ulim[0]], right=[ulim[1]], bottom=[wlim[0]], top=[wlim[1]],
           fill_color="#E5E5E5", line_color=None, **kw)
    n, m = len(uticks), len(wticks)
    p.segment(x0=uticks, y0=[wlim[0]] * n, x1=uticks, y1=[wlim[1]] * n, line_color="white", line_width=1.3, **kw)
    p.segment(x0=[ulim[0]] * m, y0=wticks, x1=[ulim[1]] * m, y1=wticks, line_color="white", line_width=1.3, **kw)
    tl_w = 5 * sw / frame_h
    tl_u = 5 * su / FRAME_W
    p.segment(x0=uticks, y0=[wlim[0]] * n, x1=uticks, y1=[wlim[0] - tl_w] * n, line_color=GREY, line_width=1.3, **kw)
    p.segment(x0=[ulim[0] - tl_u] * m, y0=wticks, x1=[ulim[0]] * m, y1=wticks, line_color=GREY, line_width=1.3, **kw)
    rT = p.scatter(x=[T_pt[0]], y=[T_pt[1]], size=30, fill_color=T_COLOR, line_color=T_COLOR, **kw)
    draw_lines(p, series, **kw)
    p.quad(left=[ulim[0]], right=[ulim[1]], bottom=[wlim[0]], top=[wlim[1]],
           fill_color=None, line_color="black", line_width=1.6, **kw)
    return rT


def make_panel(ylim, yticks, ylabels, frame_h, top_b, bottom_b, left_b):
    p = figure(x_range=Range1d(*XLIM), y_range=Range1d(*ylim), frame_width=FRAME_W, frame_height=frame_h,
               min_border_left=left_b, min_border_right=BORDER_R, min_border_top=top_b,
               min_border_bottom=bottom_b, output_backend="svg", toolbar_location=None,
               background_fill_color="#E5E5E5", border_fill_color="white",
               outline_line_color="black", outline_line_width=1.6)
    p.xaxis.ticker = FixedTicker(ticks=x_ticks)
    p.xaxis.major_label_overrides = {t: s for t, s in zip(x_ticks, x_tick_labels)}
    p.yaxis.ticker = FixedTicker(ticks=yticks)
    p.yaxis.major_label_overrides = {t: s for t, s in zip(yticks, ylabels)}
    for ax in (p.xaxis[0], p.yaxis[0]):
        ax.major_label_text_font = FONT
        ax.major_label_text_font_size = TICK_FONT
        ax.major_label_text_color = GREY
        ax.major_tick_line_color = GREY
        ax.major_tick_line_width = 1.3
        ax.major_tick_in = 0
        ax.major_tick_out = 5
        ax.minor_tick_line_color = None
        ax.axis_line_color = None
    p.xaxis.major_label_standoff = 1
    p.yaxis.major_label_standoff = 5
    p.xgrid.grid_line_color = "white"
    p.ygrid.grid_line_color = "white"
    p.xgrid.grid_line_width = 1.5
    p.ygrid.grid_line_width = 1.5
    return p


def add_legend(p, renderers):
    items = [LegendItem(label=lab, renderers=[r]) for lab, r in zip(legend_labels, renderers)]
    leg = Legend(items=items, location=(1364, 10), label_text_font=FONT, label_text_font_size="24px",
                 label_text_color="black", glyph_width=56, glyph_height=34, spacing=10, padding=8,
                 label_standoff=19, label_width=160, background_fill_color="#E5E5E5",
                 background_fill_alpha=0.8, border_line_color="#CCCCCC", border_line_width=1.2)
    p.add_layout(leg)


def blank_fig(width, height, y_span, **kw):
    f = figure(width=width, height=height, x_range=Range1d(0, width), y_range=Range1d(0, y_span),
               x_axis_location=None, y_axis_location=None, min_border=0, outline_line_color=None,
               background_fill_color="white", border_fill_color="white", output_backend="svg",
               toolbar_location=None, **kw)
    f.grid.visible = False
    return f


def ylabel_fig(width, height, frame_top, frame_h, parts, base_x, start_y):
    # The label figure's frame lines up with the neighbouring plot frame, so its data
    # coordinates are page pixels measured upwards from that frame's bottom edge.
    # parts: (text, start along the label, advance width, font px, style, baseline shift to the right)
    f = blank_fig(width, height, frame_h)
    frame_bottom = frame_top + frame_h
    for text, along, adv, size, style, dx in parts:
        cx = base_x + dx - MID * size
        cy_page = start_y - (along + adv / 2)
        f.add_layout(Label(x=cx, y=frame_bottom - cy_page, text=text, angle=math.pi / 2,
                           text_font=FONT, text_font_size=f"{size}px", text_font_style=style,
                           text_color=GREY, text_align="center", text_baseline="middle"))
    return f


label_parts_x = [("d", 0, 30.5, 48, "italic", 0), ("x", 30.5, 20.1, 34, "italic", 4),
                 ("(m\\sec", 67.0, 162.6, 48, "normal", 0), ("2", 229.6, 21.6, 34, "normal", -19),
                 (")", 251.2, 18.7, 48, "normal", 0)]
label_parts_y = [("d", 0, 30.5, 48, "italic", 0), ("y", 30.5, 20.1, 34, "italic", 4),
                 ("(m/sec", 67.0, 162.6, 48, "normal", 0), ("2", 229.6, 21.6, 34, "normal", -19),
                 (")", 251.2, 18.7, 48, "normal", 0)]

# ---------- top panel ----------
p1 = make_panel(YLIM_X, yx_ticks, yx_tick_labels, F1_H, F1_TOP, TOP_H - F1_TOP - F1_H, FRAME_LEFT - LAB1_W)
r1 = draw_lines(p1, [dd_x, ddh_x, noisy_x, noisyh_x, nf_x, nfh_x])
t1 = add_inset(p1, "ins1", INSET_FX, INSET_FY_TOP, ins_top_xlim, ins_top_ylim, ins_top_xticks, ins_top_yticks,
               [ins_top_dd, ins_top_ddh, ins_top_noisy, ins_top_noisyh, ins_top_nf, ins_top_nfh],
               (T_t[0], T_dx[0]), F1_H)
add_legend(p1, r1 + [t1])
lab1 = ylabel_fig(LAB1_W, TOP_H, F1_TOP, F1_H, label_parts_x, 60, 350)

# ---------- bottom panel ----------
bot_top_b = F2_TOP - TOP_H
p2 = make_panel(YLIM_Y, yy_ticks, yy_tick_labels, F2_H, bot_top_b, BOT_B, FRAME_LEFT - LAB2_W)
r2 = draw_lines(p2, [dd_y, ddh_y, noisy_y, noisyh_y, nf_y, nfh_y])
t2 = add_inset(p2, "ins2", INSET_FX, INSET_FY_BOT, ins_bot_xlim, ins_bot_ylim, ins_bot_xticks, ins_bot_yticks,
               [ins_bot_dd, ins_bot_ddh, ins_bot_noisy, ins_bot_noisyh, ins_bot_nf, ins_bot_nfh],
               (T_t[0], T_dy[0]), F2_H)
add_legend(p2, r2 + [t2])
lab2 = ylabel_fig(LAB2_W, bot_top_b + F2_H + BOT_B, F2_TOP, F2_H, label_parts_y, 71, 805)

# ---------- x-axis title strip (slightly overlapping the empty bottom border above it) ----------
strip_w = FRAME_LEFT + FRAME_W + BORDER_R
strip = blank_fig(strip_w, STRIP_H, STRIP_H, margin=(-STRIP_OVERLAP, 0, 0, 0))
strip.background_fill_alpha = 0
strip.border_fill_alpha = 0
strip_top = TOP_H + bot_top_b + F2_H + BOT_B - STRIP_OVERLAP
title_mid_page = TITLE_BASELINE - MID * 47
strip.add_layout(Label(x=FRAME_LEFT + FRAME_W / 2, y=strip_top + STRIP_H - title_mid_page, text=x_title,
                       text_align="center", text_baseline="middle", text_font=FONT,
                       text_font_size="47px", text_color=GREY))

layout = column(row(lab1, p1), row(lab2, p2), strip)
open("out.html", "w").write(file_html(layout, INLINE, title="d estimates"))
